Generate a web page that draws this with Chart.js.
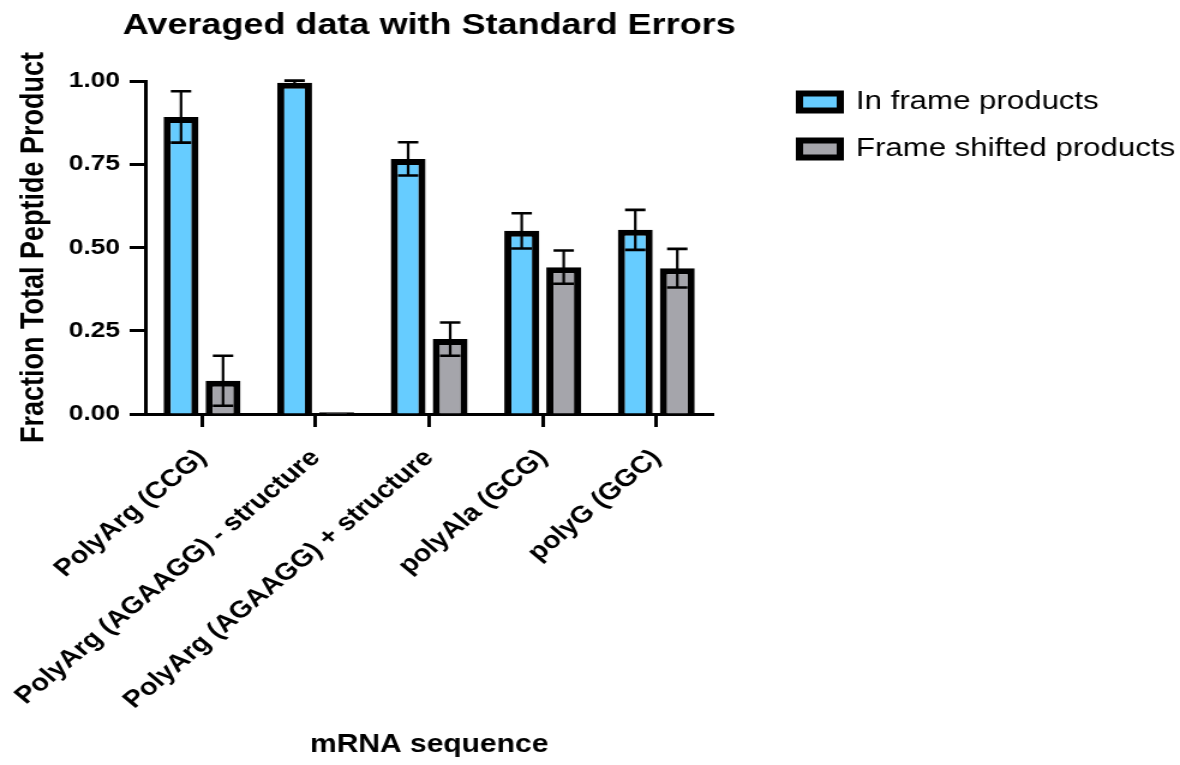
<!DOCTYPE html>
<html>
<head>
<meta charset="utf-8">
<script src="https://cdn.jsdelivr.net/npm/chart.js@4/dist/chart.umd.min.js"></script>
<style>
	html, body { margin: 0; padding: 0; background: #fff; }
</style>
</head>
<body>
<!-- the reference is stretched sideways, so the canvas is drawn narrow and widened -->
<canvas id="chart" width="983" height="765" style="width:1180px;height:765px;display:block"></canvas>
<script>
const categories = [
	"PolyArg (CCG)",
	"PolyArg (AGAAGG) - structure",
	"PolyArg (AGAAGG) + structure",
	"polyAla (GCG)",
	"polyG (GGC)",
];
const inFrame = [0.892, 0.995, 0.766, 0.55, 0.553];
const inFrameSE = [0.077, 0.006, 0.05, 0.053, 0.06];
const shifted = [0.1, 0.005, 0.225, 0.441, 0.438];
const shiftedSE = [0.075, 0, 0.05, 0.05, 0.058];
const yTicks = [0, 0.25, 0.5, 0.75, 1];

const FONT = "'Liberation Sans', Arial, Helvetica, sans-serif";
Chart.defaults.font.family = FONT;
Chart.defaults.color = "#000";

// standard error whiskers, cap on top and one inside the bar
const errorBars = {
	id: "errorBars",
	afterDatasetsDraw(chart) {
		const { ctx } = chart;
		const y = chart.scales.y;
		ctx.save();
		ctx.strokeStyle = "#000";
		chart.data.datasets.forEach((ds, i) => {
			chart.getDatasetMeta(i).data.forEach((bar, j) => {
				const se = ds.errors[j];
				if (!se) return;
				const hi = y.getPixelForValue(ds.data[j] + se);
				const lo = y.getPixelForValue(ds.data[j] - se);
				ctx.lineWidth = 2.2;
				ctx.beginPath();
				ctx.moveTo(bar.x, hi);
				ctx.lineTo(bar.x, lo);
				ctx.stroke();
				ctx.lineWidth = 2.6;
				ctx.beginPath();
				ctx.moveTo(bar.x - 8.5, hi);
				ctx.lineTo(bar.x + 8.5, hi);
				ctx.moveTo(bar.x - 8.5, lo);
				ctx.lineTo(bar.x + 8.5, lo);
				ctx.stroke();
			});
		});
		ctx.restore();
	},
};

// title sits over the plot only, but its text is a bit wider than the plot
const wideTitle = {
	id: "wideTitle",
	afterLayout(chart) {
		const t = chart.titleBlock;
		if (!t) return;
		t.left -= 40;
		t.right += 40;
		t.width += 80;
	},
};

const tickGrid = {
	display: true,
	drawOnChartArea: false,
	drawTicks: true,
	tickLength: 13,
	tickWidth: 3,
	tickColor: "#000",
	offset: false,
};

new Chart(document.getElementById("chart"), {
	type: "bar",
	data: {
		labels: categories,
		datasets: [
			{
				label: "In frame products",
				data: inFrame,
				errors: inFrameSE,
				backgroundColor: "#66ccff",
				borderColor: "#000",
				borderWidth: 6,
				categoryPercentage: 0.74,
				barPercentage: 0.83,
			},
			{
				label: "Frame shifted products",
				data: shifted,
				errors: shiftedSE,
				backgroundColor: "#a5a5ab",
				borderColor: "#000",
				borderWidth: 6,
				categoryPercentage: 0.74,
				barPercentage: 0.83,
			},
		],
	},
	options: {
		responsive: false,
		animation: false,
		layout: { padding: 0 },
		plugins: {
			title: {
				display: true,
				text: "Averaged data with Standard Errors",
				fullSize: false,
				font: { size: 30, weight: "bold" },
				padding: { top: 8, bottom: 37 },
			},
			legend: {
				position: "right",
				align: "start",
				maxWidth: 338,
				title: { display: true, text: "", font: { size: 10, lineHeight: 1 }, padding: { top: 58, bottom: 0 } },
				labels: {
					boxWidth: 34,
					boxHeight: 17,
					padding: 21,
					font: { size: 26 },
					color: "#000",
				},
			},
			tooltip: { enabled: false },
		},
		scales: {
			x: {
				grid: tickGrid,
				border: { display: true, width: 3, color: "#000" },
				ticks: {
					autoSkip: false,
					maxRotation: 45,
					minRotation: 45,
					padding: 17,
					font: { size: 24, weight: "bold" },
				},
				title: {
					display: true,
					text: "mRNA sequence",
					font: { size: 25, weight: "bold" },
					padding: { top: 0, bottom: 5 },
				},
				afterFit: (s) => { s.height = 351; },
			},
			y: {
				min: 0,
				max: 1,
				afterBuildTicks: (s) => { s.ticks = yTicks.map((v) => ({ value: v })); },
				grid: tickGrid,
				border: { display: true, width: 3, color: "#000" },
				ticks: {
					padding: 8,
					font: { size: 22, weight: "bold" },
					callback: (v) => Number(v).toFixed(2),
				},
				title: {
					display: true,
					text: "Fraction Total Peptide Product",
					font: { size: 27, weight: "bold" },
					padding: { top: 12, bottom: 0 },
				},
				afterFit: (s) => { s.width = 121; },
			},
			// empty spacer between the plot and the legend
			gap: {
				type: "linear",
				position: "right",
				display: true,
				grid: { display: false },
				border: { display: false },
				ticks: { display: false },
				afterFit: (s) => { s.width = 51; },
			},
		},
	},
	plugins: [errorBars, wideTitle],
});
</script>
</body>
</html>
